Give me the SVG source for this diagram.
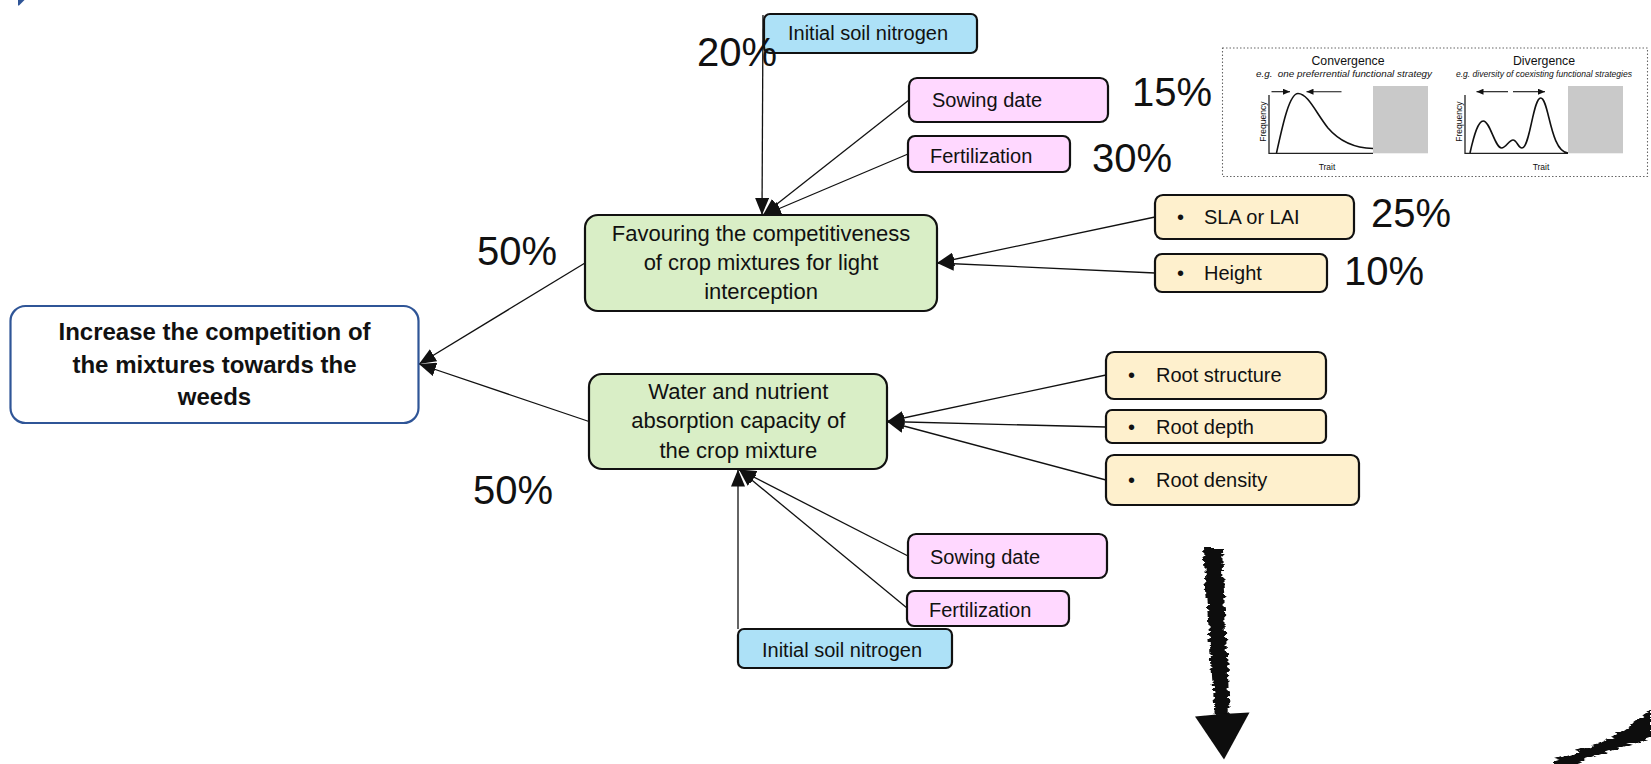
<svg xmlns="http://www.w3.org/2000/svg" width="1651" height="764" viewBox="0 0 1651 764">
  <style>
    text { font-family: "Liberation Sans", Arial, sans-serif; fill: #111; }
    .box { stroke: #111; stroke-width: 2.2; }
    .green { fill: #D9EEC6; }
    .pink { fill: #FFD8FF; }
    .blue { fill: #ADE1F7; }
    .yellow { fill: #FEF0CD; }
    .lbl { font-size: 20px; }
    .mid { font-size: 22px; text-anchor: middle; }
    .goal { font-size: 24px; font-weight: bold; text-anchor: middle; }
    .pct { font-size: 40px; }
    .link { stroke: #111; stroke-width: 1.3; fill: none; marker-end: url(#head); }
    .axis { stroke: #222; stroke-width: 1.3; fill: none; }
    .curve { stroke: #111; stroke-width: 1.6; fill: none; }
    .arr { stroke: #111; stroke-width: 1.1; fill: none; marker-end: url(#small); }
    .ttl { font-size: 12.3px; text-anchor: middle; }
    .sub { font-size: 8.6px; font-style: italic; text-anchor: middle; }
    .ax { font-size: 8.5px; text-anchor: middle; }
  </style>
  <defs>
    <marker id="head" markerUnits="userSpaceOnUse" markerWidth="18" markerHeight="14" refX="17" refY="7" orient="auto">
      <path d="M0,0 L17,7 L0,14 z" fill="#111"/>
    </marker>
    <marker id="small" markerUnits="userSpaceOnUse" markerWidth="8" markerHeight="6" refX="7" refY="3" orient="auto">
      <path d="M0,0 L7,3 L0,6 z" fill="#111"/>
    </marker>
    <filter id="rough" x="-40%" y="-10%" width="180%" height="120%">
      <feTurbulence type="fractalNoise" baseFrequency="0.06 0.35" numOctaves="2" seed="4"/>
      <feDisplacementMap in="SourceGraphic" scale="8" xChannelSelector="R" yChannelSelector="G"/>
      <feGaussianBlur stdDeviation="0.5"/>
    </filter>
    <filter id="soft">
      <feGaussianBlur stdDeviation="0.5"/>
    </filter>
  </defs>

  <rect width="1651" height="764" fill="#fff"/>

  <!-- small corner mark -->
  <polygon points="18,0 24.5,0 19,5.5 18,5.5" fill="#2F5597"/>

  <!-- connectors -->
  <g id="connectors">
    <line class="link" x1="585" y1="263" x2="419" y2="364"/>
    <line class="link" x1="589" y1="421.5" x2="419" y2="364"/>
    <line class="link" x1="763" y1="15" x2="762" y2="215"/>
    <line class="link" x1="909" y1="100" x2="763" y2="215"/>
    <line class="link" x1="908" y1="154" x2="764" y2="215"/>
    <line class="link" x1="1155" y1="217" x2="937" y2="263"/>
    <line class="link" x1="1155" y1="273" x2="937" y2="263"/>
    <line class="link" x1="1106" y1="375" x2="887" y2="421.5"/>
    <line class="link" x1="1106" y1="427" x2="887" y2="421.5"/>
    <line class="link" x1="1106" y1="480" x2="887" y2="421.5"/>
    <line class="link" x1="738" y1="629" x2="738" y2="469.5"/>
    <line class="link" x1="908" y1="556" x2="739" y2="469.5"/>
    <line class="link" x1="907" y1="608" x2="739" y2="469.5"/>
  </g>

  <!-- goal -->
  <g id="goal">
    <rect x="10.5" y="306" width="408" height="117" rx="15" fill="#fff" stroke="#2F5597" stroke-width="2.2"/>
    <text class="goal" x="214.5" y="340">Increase the competition of</text>
    <text class="goal" x="214.5" y="372.7">the mixtures towards the</text>
    <text class="goal" x="214.5" y="405">weeds</text>
  </g>

  <!-- sub-objectives -->
  <g id="light">
    <rect class="box green" x="585" y="215" width="352" height="96" rx="13"/>
    <text class="mid" x="761" y="240.7">Favouring the competitiveness</text>
    <text class="mid" x="761" y="270">of crop mixtures for light</text>
    <text class="mid" x="761" y="299">interception</text>
  </g>
  <g id="absorption">
    <rect class="box green" x="589" y="374" width="298" height="95" rx="13"/>
    <text class="mid" x="738.3" y="399.3">Water and nutrient</text>
    <text class="mid" x="738.3" y="428.3">absorption capacity of</text>
    <text class="mid" x="738.3" y="458.3">the crop mixture</text>
  </g>

  <!-- factors, upper branch -->
  <g id="soil-n-top">
    <rect class="box blue" x="764" y="14" width="213" height="39" rx="6"/>
    <text class="lbl" x="788" y="40">Initial soil nitrogen</text>
  </g>
  <g id="sowing-top">
    <rect class="box pink" x="909" y="78" width="199" height="44" rx="8"/>
    <text class="lbl" x="932" y="107">Sowing date</text>
  </g>
  <g id="fert-top">
    <rect class="box pink" x="908" y="136" width="162" height="36" rx="7"/>
    <text class="lbl" x="930" y="162.5">Fertilization</text>
  </g>
  <g id="sla">
    <rect class="box yellow" x="1155" y="195" width="199" height="44" rx="8"/>
    <text class="lbl" x="1177" y="224">•</text>
    <text class="lbl" x="1204" y="224">SLA or LAI</text>
  </g>
  <g id="height">
    <rect class="box yellow" x="1155" y="254" width="172" height="38" rx="7"/>
    <text class="lbl" x="1177" y="280">•</text>
    <text class="lbl" x="1204" y="280">Height</text>
  </g>

  <!-- factors, lower branch -->
  <g id="root-structure">
    <rect class="box yellow" x="1106" y="352" width="220" height="47" rx="8"/>
    <text class="lbl" x="1128" y="382">•</text>
    <text class="lbl" x="1156" y="382">Root structure</text>
  </g>
  <g id="root-depth">
    <rect class="box yellow" x="1106" y="410" width="220" height="33" rx="6"/>
    <text class="lbl" x="1128" y="434">•</text>
    <text class="lbl" x="1156" y="434">Root depth</text>
  </g>
  <g id="root-density">
    <rect class="box yellow" x="1106" y="455" width="253" height="50" rx="8"/>
    <text class="lbl" x="1128" y="487">•</text>
    <text class="lbl" x="1156" y="487">Root density</text>
  </g>
  <g id="sowing-bottom">
    <rect class="box pink" x="908" y="534" width="199" height="44" rx="8"/>
    <text class="lbl" x="930" y="564">Sowing date</text>
  </g>
  <g id="fert-bottom">
    <rect class="box pink" x="907" y="591" width="162" height="35" rx="7"/>
    <text class="lbl" x="929" y="617">Fertilization</text>
  </g>
  <g id="soil-n-bottom">
    <rect class="box blue" x="738" y="629" width="214" height="39" rx="6"/>
    <text class="lbl" x="762" y="657">Initial soil nitrogen</text>
  </g>

  <!-- weights -->
  <g id="weights">
    <text class="pct" x="697" y="66">20%</text>
    <text class="pct" x="1132" y="106">15%</text>
    <text class="pct" x="1092" y="172">30%</text>
    <text class="pct" x="1371" y="227">25%</text>
    <text class="pct" x="1344" y="285">10%</text>
    <text class="pct" x="477" y="265">50%</text>
    <text class="pct" x="473" y="504">50%</text>
  </g>

  <!-- trait distribution inset -->
  <g id="inset">
    <rect x="1222.5" y="48" width="425" height="128.5" fill="#fff" stroke="#666" stroke-width="1.1" stroke-dasharray="1.5 2"/>
    <text class="ttl" x="1348" y="65">Convergence</text>
    <text class="sub" x="1344" y="76.5" xml:space="preserve" textLength="176" lengthAdjust="spacingAndGlyphs">e.g.  one preferrential functional strategy</text>
    <text class="ttl" x="1544" y="65">Divergence</text>
    <text class="sub" x="1544" y="76.5" textLength="176" lengthAdjust="spacingAndGlyphs">e.g. diversity of coexisting functional strategies</text>

    <rect x="1373" y="86" width="55" height="67.3" fill="#C9C9C9"/>
    <path class="axis" d="M1269,95 V153.3 H1373"/>
    <path class="curve" d="M1276.5,153 C1282,128 1289,93.5 1298,93.5 C1308,93.5 1316,113 1328,128 C1340,142 1355,148 1373,148.5"/>
    <line class="arr" x1="1271.5" y1="91.7" x2="1290" y2="91.7"/>
    <line class="arr" x1="1341.5" y1="91.7" x2="1306.5" y2="91.7"/>
    <text class="ax" transform="translate(1266,121.7) rotate(-90)">Frequency</text>
    <text class="ax" x="1327" y="170">Trait</text>

    <rect x="1568" y="86" width="55" height="67.3" fill="#C9C9C9"/>
    <path class="axis" d="M1465,95 V153.3 H1568"/>
    <path class="curve" d="M1470,153 C1474,135 1478,121 1483.3,121 C1490,121 1495,148 1501.5,148 C1506,148 1509,140 1513,140 C1517,140 1518,148 1522,148 C1530,148 1533,98 1540.7,98 C1549,98 1550,152 1568,153"/>
    <line class="arr" x1="1508" y1="91.7" x2="1476.5" y2="91.7"/>
    <line class="arr" x1="1513" y1="91.7" x2="1545" y2="91.7"/>
    <text class="ax" transform="translate(1462,121.7) rotate(-90)">Frequency</text>
    <text class="ax" x="1541" y="170">Trait</text>
  </g>

  <!-- hand-drawn arrow -->
  <g id="drawn-arrow">
    <polygon points="1203,549 1222,549 1230,717 1215,717" fill="#111" filter="url(#rough)"/>
    <polygon points="1195,716.5 1222,714 1249.5,712.5 1224,759.5" fill="#111" filter="url(#soft)"/>
  </g>
  <!-- hand-drawn stroke, bottom right -->
  <path d="M1553,764 L1553,760 C1575,752 1600,744 1620,732 C1632,724 1642,716 1651,709 L1651,737 C1640,741 1630,745 1620,748 C1605,753 1590,758 1575,764 Z" fill="#111" filter="url(#rough)"/>
</svg>
